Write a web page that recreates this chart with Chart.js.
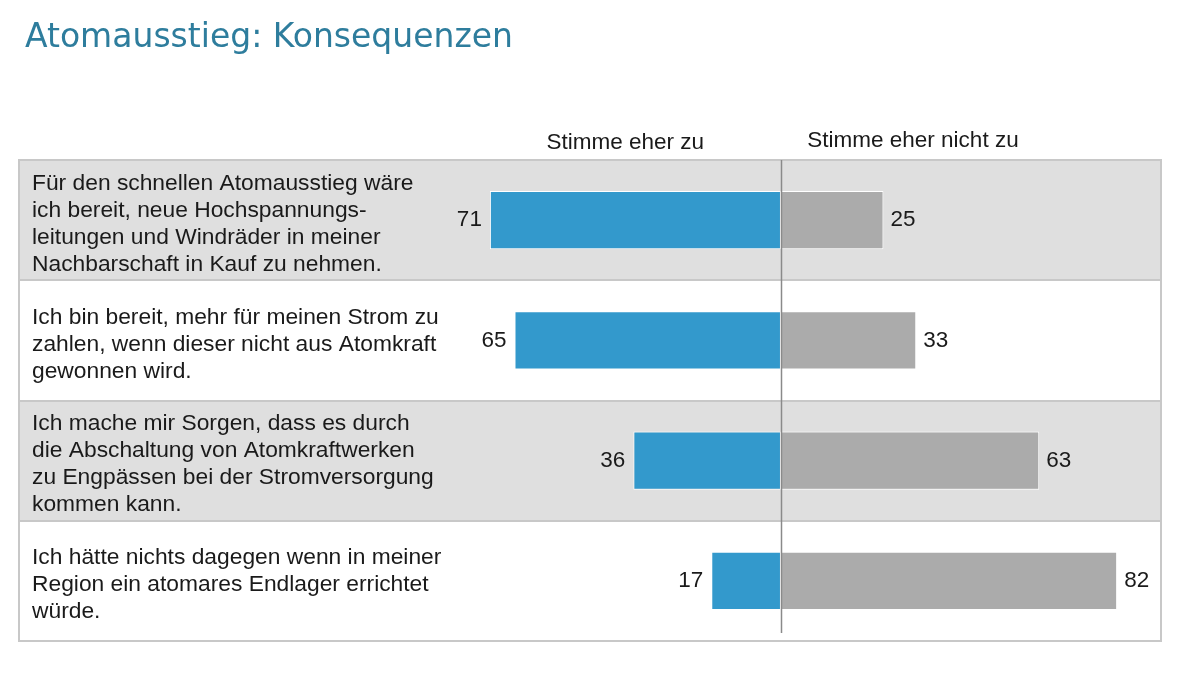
<!DOCTYPE html>
<html>
<head>
<meta charset="utf-8">
<script src="https://cdn.jsdelivr.net/npm/chart.js@4"></script>
<style>
  html, body { margin: 0; padding: 0; background: #ffffff; }
  #wrap { width: 1200px; height: 675px; position: relative; }
</style>
</head>
<body>
<div id="wrap"><canvas id="c" width="1200" height="675"></canvas></div>
<script>
const titleText = 'Atomausstieg: Konsequenzen';
const seriesNames = ['Stimme eher zu', 'Stimme eher nicht zu'];
const categories = [
  ['Für den schnellen Atomausstieg wäre', 'ich bereit, neue Hochspannungs-', 'leitungen und Windräder in meiner', 'Nachbarschaft in Kauf zu nehmen.'],
  ['Ich bin bereit, mehr für meinen Strom zu', 'zahlen, wenn dieser nicht aus Atomkraft', 'gewonnen wird.'],
  ['Ich mache mir Sorgen, dass es durch', 'die Abschaltung von Atomkraftwerken', 'zu Engpässen bei der Stromversorgung', 'kommen kann.'],
  ['Ich hätte nichts dagegen wenn in meiner', 'Region ein atomares Endlager errichtet', 'würde.']
];
const agree = [71, 65, 36, 17];
const disagree = [25, 33, 63, 82];

const FONT = '"Liberation Sans", Arial, sans-serif';
const TEXT = '#1a1a1a';

const tablePlugin = {
  id: 'tableDecor',
  beforeDraw(chart) {
    const {ctx, chartArea} = chart;
    const left = 19, right = chartArea.right;
    const n = categories.length;
    const step = (chartArea.bottom - chartArea.top) / n;
    ctx.save();
    ctx.fillStyle = '#ffffff';
    ctx.fillRect(0, 0, chart.width, chart.height);
    for (let i = 0; i < n; i++) {
      const top = chartArea.top + i * step;
      ctx.fillStyle = (i % 2 === 0) ? '#dfdfdf' : '#ffffff';
      ctx.fillRect(left, top, right - left, step);
    }
    ctx.strokeStyle = '#c8c8c8';
    ctx.lineWidth = 2;
    for (let i = 1; i < n; i++) {
      const yy = Math.round(chartArea.top + i * step);
      ctx.beginPath(); ctx.moveTo(left, yy); ctx.lineTo(right, yy); ctx.stroke();
    }
    ctx.strokeRect(left, chartArea.top, right - left, chartArea.bottom - chartArea.top);
    ctx.restore();
  },
  afterDatasetsDraw(chart) {
    const {ctx, chartArea, scales} = chart;
    const x = scales.x, y = scales.y;
    const x0 = Math.round(x.getPixelForValue(0)) + 0.5;
    ctx.save();
    // center line
    ctx.strokeStyle = '#8a8a8a';
    ctx.lineWidth = 1.5;
    ctx.beginPath(); ctx.moveTo(x0, chartArea.top); ctx.lineTo(x0, chartArea.bottom - 8); ctx.stroke();
    // value labels
    ctx.fillStyle = TEXT;
    ctx.font = '22.5px ' + FONT;
    ctx.textBaseline = 'middle';
    for (let i = 0; i < categories.length; i++) {
      const yc = y.getPixelForValue(i);
      ctx.textAlign = 'right';
      ctx.fillText(String(agree[i]), x.getPixelForValue(-agree[i]) - 8, yc);
      ctx.textAlign = 'left';
      ctx.fillText(String(disagree[i]), x.getPixelForValue(disagree[i]) + 7, yc);
    }
    // header labels
    ctx.textAlign = 'center';
    ctx.fillText(seriesNames[0], x.getPixelForValue(-38), 143);
    ctx.fillText(seriesNames[1], x.getPixelForValue(32.2), 141);
    // title
    ctx.fillStyle = '#2e7d9d';
    ctx.font = '33px "DejaVu Sans", Verdana, sans-serif';
    ctx.textAlign = 'left';
    ctx.textBaseline = 'alphabetic';
    ctx.fillText(titleText, 25, 47);
    ctx.restore();
  }
};

new Chart(document.getElementById('c'), {
  type: 'bar',
  data: {
    labels: categories,
    datasets: [
      {
        label: seriesNames[0],
        data: agree.map(v => -v),
        backgroundColor: '#3399cc',
        borderColor: '#ffffff',
        borderWidth: 1,
        borderSkipped: false,
        barPercentage: 0.485,
        categoryPercentage: 1,
        stack: 's'
      },
      {
        label: seriesNames[1],
        data: disagree,
        backgroundColor: '#ababab',
        borderColor: '#ffffff',
        borderWidth: 1,
        borderSkipped: false,
        barPercentage: 0.485,
        categoryPercentage: 1,
        stack: 's'
      }
    ]
  },
  options: {
    indexAxis: 'y',
    responsive: false,
    animation: false,
    devicePixelRatio: 1,
    layout: { padding: { left: 32, right: 39, top: 160, bottom: 34 } },
    plugins: {
      legend: { display: false },
      title: { display: false },
      tooltip: { enabled: false }
    },
    scales: {
      x: {
        display: false,
        stacked: true,
        min: -80,
        max: 92.7
      },
      y: {
        stacked: true,
        grid: { display: false },
        border: { display: false },
        afterFit(scale) {
          scale.width = 421;
          scale.paddingTop = 0;
          scale.paddingBottom = 0;
        },
        ticks: {
          crossAlign: 'far',
          padding: 0,
          labelOffset: 4,
          color: TEXT,
          font: { family: FONT, size: 22.8, lineHeight: 1.184 }
        }
      }
    }
  },
  plugins: [tablePlugin]
});
</script>
</body>
</html>
